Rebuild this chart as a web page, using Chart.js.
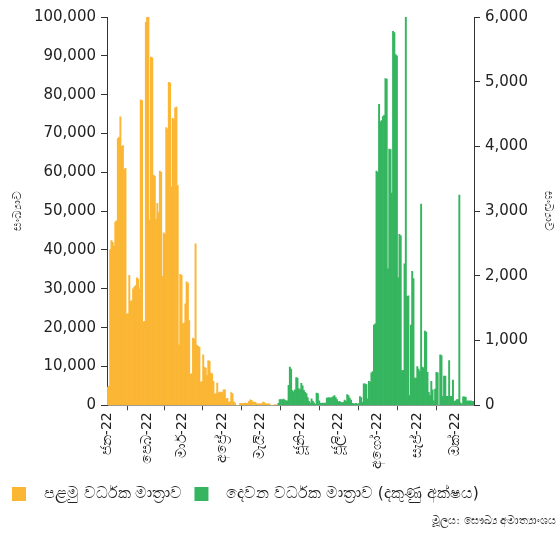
<!DOCTYPE html>
<html>
<head>
<meta charset="utf-8">
<script src="https://cdn.jsdelivr.net/npm/chart.js@4.4.0/dist/chart.umd.min.js"></script>
<style>
  html, body { margin: 0; padding: 0; background: #fff; }
  #wrap { width: 556px; height: 544px; }
</style>
</head>
<body>
<div id="wrap"><canvas id="chart" width="556" height="544"></canvas></div>
<script>
// month tick labels and number of daily bars in each month (Jan 1 - Oct 15, 2022)
const monthLabels = ["ජන-22", "පෙබ-22", "මාර්-22", "අප්\u200Dරේ-22", "මැයි-22", "ජූනි-22", "ජූලි-22", "අගෝ-22", "සැප්-22", "ඔක්-22"];
const monthDays = [31, 28, 31, 30, 31, 30, 31, 31, 30, 15];

// first booster dose, daily from Jan 1 (left axis)
const firstDose = [
  // Jan
  4700, 4900, 40100, 42400, 42000, 41000, 47200, 47500, 68700, 69000, 74300, 66700, 66900, 60700, 61000, 23400,
  23600, 33500, 26800, 27000, 30000, 30500, 30800, 32800, 32500, 30000, 78700, 78500, 21500, 21600, 98700,
  // Feb
  100000, 99900, 47700, 89700, 89500, 59300, 59000, 47900, 52000, 49600, 60300, 60000, 33200, 44400,
  44000, 71500, 71200, 83200, 83000, 56200, 73900, 73600, 76600, 76800, 56600, 15600, 33700, 33500,
  // Mar
  21000, 21200, 26100, 31800, 31500, 21800, 8000, 8200, 17300, 17000, 41600, 15500, 15200, 15000, 6000, 6100,
  13000, 9800, 9600, 7700, 11500, 11300, 8300, 8100, 6200, 2900, 3000, 5700, 3200, 3400, 3400,
  // Apr
  3300, 4000, 4000, 1700, 1800, 800, 900, 3300, 3000, 900, 600, 0, 0, 0, 500,
  500, 450, 500, 550, 500, 500, 1000, 1400, 1300, 800, 800, 750, 400, 400, 400,
  // May
  400, 400, 800, 700, 400, 400, 400, 400, 0, 0, 0, 150, 200
];

// second booster dose (right axis), daily starting May 15
const secondDoseStart = 134;
const secondDose = [
  // May 15 - 31
  30, 90, 90, 85, 95, 80, 70, 70, 310, 590, 560, 227, 210, 240, 430, 420, 260,
  // Jun
  240, 340, 300, 230, 200, 180, 120, 60, 35, 100, 65, 40, 15, 190, 180,
  70, 35, 30, 35, 30, 35, 110, 115, 120, 110, 120, 135, 150, 120, 90,
  // Jul
  55, 60, 45, 40, 45, 80, 60, 165, 150, 110, 80, 30, 25, 20, 30, 20,
  25, 135, 120, 45, 330, 330, 320, 100, 370, 360, 500, 520, 1240, 1260, 3620,
  // Aug
  3600, 4650, 4380, 4400, 4460, 4480, 5050, 5040, 2110, 3960, 3950, 3280, 5780, 5760, 5420, 5400,
  1970, 2640, 2620, 536, 540, 2185, 6000, 1685, 1690, 150, 1240, 2070, 1960, 420, 420,
  // Sep
  600, 560, 525, 3110, 590, 580, 1145, 1130, 510, 200, 150, 370, 240, 70, 250,
  510, 500, 0, 780, 770, 140, 450, 450, 140, 140, 690, 140, 140, 390, 60,
  // Oct 1 - 15
  70, 90, 90, 3250, 40, 20, 130, 130, 125, 65, 70, 65, 70, 60, 60
];

const seriesNames = ["පළමු වර්ධක මාත්\u200Dරාව", "දෙවන වර්ධක මාත්\u200Dරාව (දකුණු අක්ෂය)"];
const axisTitle = "සංඛ්\u200Dයාව";
const sourceText = "මූලය: සෞඛ්\u200Dය අමාත්\u200Dයාංශය";

// one category per day, month label on the first day of each month
const dayLabels = [];
const tickText = [];
monthDays.forEach((n, m) => {
  for (let i = 0; i < n; i++) {
    dayLabels.push(`${m + 1}-${i + 1}`);
    tickText.push(i === 0 ? monthLabels[m] : null);
  }
});

const secondData = new Array(secondDoseStart).fill(null).concat(secondDose);

const fontFamily = "'DejaVu Sans', 'Noto Sans', sans-serif";
const textColor = "#222";

new Chart(document.getElementById("chart"), {
  type: "bar",
  data: {
    labels: dayLabels,
    datasets: [
      {
        label: seriesNames[0],
        data: firstDose,
        yAxisID: "y",
        backgroundColor: "#fbb634",
        borderWidth: 0,
        grouped: false,
        barPercentage: 1,
        categoryPercentage: 1
      },
      {
        label: seriesNames[1],
        data: secondData,
        yAxisID: "y1",
        backgroundColor: "#35b55f",
        borderWidth: 0,
        grouped: false,
        barPercentage: 1,
        categoryPercentage: 1
      }
    ]
  },
  options: {
    responsive: false,
    animation: false,
    layout: { padding: { left: 0, right: 0, top: 17, bottom: 16 } },
    scales: {
      x: {
        offset: true,
        afterFit: (scale) => { scale.height = 69; },
        grid: { offset: true, drawOnChartArea: false, drawTicks: true, tickLength: 5, color: "#444" },
        border: { display: true, color: "#999" },
        ticks: {
          autoSkip: false,
          minRotation: 90,
          maxRotation: 90,
          padding: 2,
          color: textColor,
          font: { family: fontFamily, size: 14 },
          callback: (value, index) => tickText[index]
        }
      },
      y: {
        position: "left",
        min: 0,
        max: 100000,
        afterFit: (scale) => { scale.width = 107; },
        ticks: {
          stepSize: 10000,
          color: textColor,
          padding: 5,
          font: { family: fontFamily, size: 15 },
          callback: (v) => v.toLocaleString("en-US")
        },
        grid: { drawOnChartArea: false, drawTicks: true, tickLength: 6, color: "#333" },
        border: { display: true, color: "#333" },
        title: {
          display: true, text: axisTitle, color: "#444",
          font: { family: fontFamily, size: 12 }, padding: { top: 11, bottom: 0 }
        }
      },
      y1: {
        position: "right",
        min: 0,
        max: 6000,
        afterFit: (scale) => { scale.width = 82; },
        ticks: {
          stepSize: 1000,
          color: textColor,
          padding: 5,
          font: { family: fontFamily, size: 15 },
          callback: (v) => v.toLocaleString("en-US")
        },
        grid: { drawOnChartArea: false, drawTicks: true, tickLength: 6, color: "#333" },
        border: { display: true, color: "#333" },
        title: {
          display: true, text: axisTitle, color: "#444",
          font: { family: fontFamily, size: 12 }, padding: { top: 1, bottom: 0 }
        }
      }
    },
    plugins: {
      legend: {
        position: "bottom",
        align: "start",
        labels: {
          boxWidth: 14,
          boxHeight: 14,
          padding: 12,
          color: textColor,
          font: { family: fontFamily, size: 15.5 },
          generateLabels: (chart) =>
            Chart.defaults.plugins.legend.labels.generateLabels(chart).map((item) => ({ ...item, text: "  " + item.text }))
        }
      },
      subtitle: {
        display: true,
        position: "bottom",
        align: "end",
        text: sourceText,
        color: "#333",
        font: { family: fontFamily, size: 11 },
        padding: { top: 3, bottom: 0 }
      },
      tooltip: { enabled: false }
    }
  }
});
</script>
</body>
</html>
